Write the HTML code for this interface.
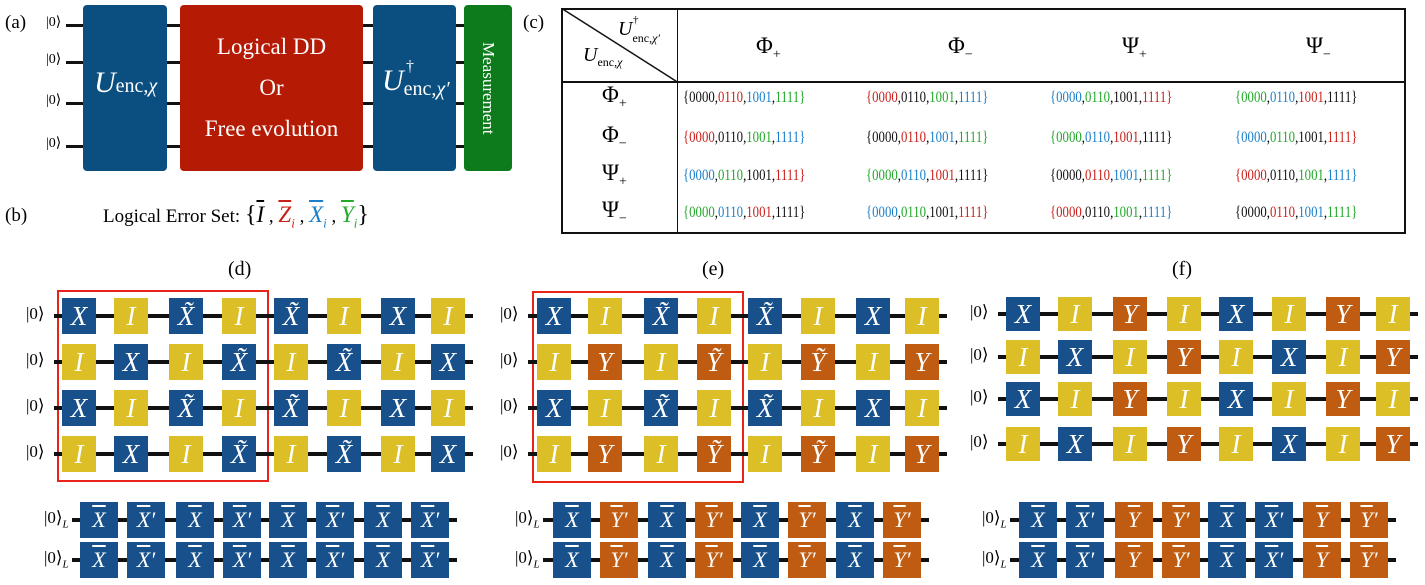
<!DOCTYPE html>
<html><head><meta charset="utf-8">
<style>
body{margin:0;width:1425px;height:585px;background:#fff;position:relative;overflow:hidden;font-family:"Liberation Serif",serif;}
.a{position:absolute;}
.w{position:absolute;height:4px;background:#111;}
.g{position:absolute;color:#fff;font-style:italic;text-align:center;font-family:"Liberation Serif",serif;}
.B{background:#17508a}.Y{background:#dcbe26}.O{background:#bf5c12}
.lab{position:absolute;font-size:19px;}
.ket{position:absolute;font-size:17px;}
.bar{text-decoration:overline;}
.r{color:#c8201a}.b{color:#1a7fc9}.gr{color:#22a82a}.k{color:#111}
.cell{position:absolute;font-size:16px;white-space:nowrap;transform:scaleX(0.8);transform-origin:0 0;}
.hd{position:absolute;font-size:23px;}
</style></head><body>
<!-- panel a -->
<div class="lab" style="left:5px;top:12px">(a)</div>
<div class="w" style="left:66px;top:24px;width:430px;height:3px"></div>
<div class="w" style="left:66px;top:61px;width:430px;height:3px"></div>
<div class="w" style="left:66px;top:102px;width:430px;height:3px"></div>
<div class="w" style="left:66px;top:145px;width:430px;height:3px"></div>
<div class="ket" style="left:46px;top:14px;font-size:14px">|0⟩</div>
<div class="ket" style="left:46px;top:51px;font-size:14px">|0⟩</div>
<div class="ket" style="left:46px;top:92px;font-size:14px">|0⟩</div>
<div class="ket" style="left:46px;top:135px;font-size:14px">|0⟩</div>
<div class="a" style="left:83px;top:5px;width:84px;height:166px;background:#0b4e80;border-radius:4px"></div>
<div class="a" style="left:94px;top:66px;color:#fff;font-size:30px;font-style:italic">U<span style="font-style:normal;font-size:20px">enc,<i>χ</i></span></div>
<div class="a" style="left:180px;top:5px;width:183px;height:166px;background:#b51a05;border-radius:4px"></div>
<div class="a" style="left:180px;top:26px;width:183px;color:#fff;font-size:23px;text-align:center;line-height:41px">Logical DD<br>Or<br>Free evolution</div>
<div class="a" style="left:373px;top:5px;width:83px;height:166px;background:#0b4e80;border-radius:4px"></div>
<div class="a" style="left:382px;top:64px;color:#fff;font-size:30px;font-style:italic">U<span style="font-style:normal;font-size:20px;position:relative;top:5px">enc,<i>χ′</i></span><span style="position:absolute;left:24px;top:-6px;font-size:16px;font-style:normal">†</span></div>
<div class="a" style="left:464px;top:5px;width:48px;height:166px;background:#0d7a1c;border-radius:4px"></div>
<div class="a" style="left:464px;top:5px;width:48px;height:166px;color:#fff;font-size:17px;writing-mode:vertical-rl;text-align:center;line-height:48px">Measurement</div>
<!-- panel b -->
<div class="lab" style="left:5px;top:205px">(b)</div>
<div class="a" style="left:103px;top:202px;font-size:19px">Logical Error Set: <span style="font-size:24px">{</span><i class="bar" style="font-size:23px">I</i> , <i class="r" style="font-size:23px"><span class="bar">Z</span><sub style="font-size:13px">i</sub></i> , <i class="b" style="font-size:23px"><span class="bar">X</span><sub style="font-size:13px">i</sub></i> , <i class="gr" style="font-size:23px"><span class="bar">Y</span><sub style="font-size:13px">i</sub></i><span style="font-size:24px">}</span></div>
<!-- panel c -->
<div class="lab" style="left:523px;top:12px">(c)</div>
<div class="a" style="left:561px;top:8px;width:841px;height:222px;border:2px solid #111"></div>
<div class="a" style="left:561px;top:81px;width:843px;height:2px;background:#111"></div>
<div class="a" style="left:677px;top:8px;width:1px;height:224px;background:#111"></div>
<svg class="a" style="left:561px;top:8px" width="118" height="75"><line x1="0" y1="0" x2="118" y2="75" stroke="#111" stroke-width="1.5"/></svg>
<div class="a" style="left:618px;top:18px;font-size:20px;font-style:italic">U<span style="position:absolute;left:15px;top:-4px;font-size:11px;font-style:normal">†</span><span style="font-size:12px;font-style:normal;position:relative;top:7px">enc,<i>χ′</i></span></div>
<div class="a" style="left:583px;top:44px;font-size:20px;font-style:italic">U<span style="font-size:12px;font-style:normal;position:relative;top:5px">enc,<i>χ</i></span></div>
<div class="hd" style="left:756px;top:33px">Φ<sub style="font-size:14px">+</sub></div>
<div class="hd" style="left:948px;top:33px">Φ<sub style="font-size:14px">−</sub></div>
<div class="hd" style="left:1122px;top:33px">Ψ<sub style="font-size:14px">+</sub></div>
<div class="hd" style="left:1306px;top:33px">Ψ<sub style="font-size:14px">−</sub></div>
<div class="hd" style="left:602px;top:82px">Φ<sub style="font-size:14px">+</sub></div>
<div class="hd" style="left:602px;top:122px">Φ<sub style="font-size:14px">−</sub></div>
<div class="hd" style="left:602px;top:160px">Ψ<sub style="font-size:14px">+</sub></div>
<div class="hd" style="left:602px;top:197px">Ψ<sub style="font-size:14px">−</sub></div>
<div id="tbl"></div>
<!-- titles -->
<div class="lab" style="left:228px;top:258px;font-size:20px">(d)</div>
<div class="lab" style="left:702px;top:258px;font-size:20px">(e)</div>
<div class="lab" style="left:1172px;top:258px;font-size:20px">(f)</div>
<div class="a" style="left:57px;top:290px;width:208px;height:188px;border:2px solid #e8231a"></div>
<div class="a" style="left:532px;top:291px;width:208px;height:188px;border:2px solid #e8231a"></div>
<div id="gates"></div>
<script>
(function(){
var C={k:'k',r:'r',b:'b',g:'gr'};
var rows=[['krbg','rkgb','bgkr','gbrk'],['rkgb','krbg','gbrk','bgkr'],['bgkr','gbrk','krbg','rkgb'],['gbrk','bgkr','rkgb','krbg']];
var nums=['0000','0110','1001','1111'];
var xs=[683,866,1050,1235],ys=[89,129,167,204];var h='';
rows.forEach(function(r,i){r.forEach(function(p,j){
 var f=p.charAt(0);var s='<span class="'+C[f]+'">{</span>';
 for(var q=0;q<4;q++){s+='<span class="'+C[p.charAt(q)]+'">'+nums[q]+'</span>'+(q<3?',':'');}
 s+='<span class="'+C[p.charAt(3)]+'">}</span>';
 h+='<div class="cell" style="left:'+xs[j]+'px;top:'+ys[i]+'px">'+s+'</div>';});});
document.getElementById('tbl').innerHTML=h;

var out='';
function gate(x,y,w,hh,cls,txt,fs){out+='<div class="g '+cls+'" style="left:'+x+'px;top:'+y+'px;width:'+w+'px;height:'+hh+'px;line-height:'+hh+'px;font-size:'+fs+'px">'+txt+'</div>';}
function wire(x1,x2,y){out+='<div class="w" style="left:'+x1+'px;top:'+(y-2)+'px;width:'+(x2-x1)+'px"></div>';}
function ket(x,y,L){out+='<div class="ket" style="left:'+x+'px;top:'+(y-12)+'px">|0⟩'+(L?'<sub style="font-size:11px;font-style:italic">L</sub>':'')+'</div>';}
var T={X:'X',x:'X̃',I:'I',Y:'Y',y:'Ỹ',A:'<span class="bar">X</span>',B:'<span class="bar">X</span>′',P:'<span class="bar">Y</span>',Q:'<span class="bar">Y</span>′'};
var K={X:'B',x:'B',I:'Y',Y:'O',y:'O',A:'B',B:'B',P:'O',Q:'O'};
function panel(cols,rowys,pat,w,hh,ketx,fs,L){
 rowys.forEach(function(y,i){
  wire(ketx+28,cols[7]+w+8,y+hh/2);ket(ketx,y+hh/2,L);
  for(var j=0;j<8;j++){var c=pat[i].charAt(j);gate(cols[j],y,w,hh,K[c],T[c],fs);}
 });
}
var d=[62,114,169,222,274,327,381,431];
panel(d,[298,344,390,436],['XIxIxIXI','IXIxIxIX','XIxIxIXI','IXIxIxIX'],34,36,26,27,false);
var e=[537,588,644,697,748,801,856,905];
panel(e,[298,344,390,436],['XIxIxIXI','IYIyIyIY','XIxIxIXI','IYIyIyIY'],34,36,500,27,false);
var f=[1006,1058,1113,1167,1219,1272,1326,1376];
panel(f,[297,340,382,427],['XIYIXIYI','IXIYIXIY','XIYIXIYI','IXIYIXIY'],34,34,970,27,false);
var db=[80,127,176,223,269,316,364,411];
panel(db,[502,542],['ABABABAB','ABABABAB'],38,36,44,22,true);
var eb=[553,600,648,695,741,788,836,883];
panel(eb,[502,542],['AQAQAQAQ','AQAQAQAQ'],38,36,515,22,true);
var fb=[1019,1066,1115,1162,1208,1255,1303,1350];
panel(fb,[502,542],['ABPQABPQ','ABPQABPQ'],38,36,982,22,true);
document.getElementById('gates').innerHTML=out;
})();
</script>
</body></html>
